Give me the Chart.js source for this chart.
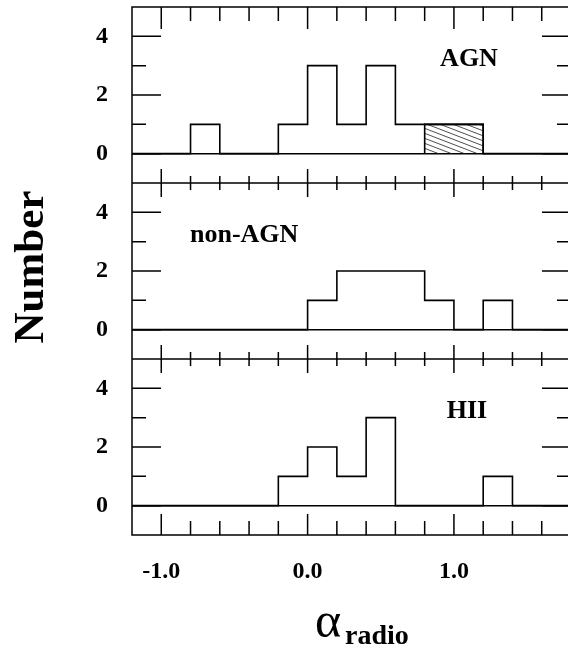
<!DOCTYPE html>
<html>
<head>
<meta charset="utf-8">
<script src="https://cdn.jsdelivr.net/npm/chart.js@4.4.0/dist/chart.umd.min.js"></script>
<style>
  html, body { margin: 0; padding: 0; background: #fff; overflow: hidden; }
  #wrap { position: relative; width: 580px; height: 654px; }
</style>
</head>
<body>
<div id="wrap"><canvas id="histChart" width="580" height="654"></canvas></div>
<script>
// bin edges of alpha_radio, bins are 0.2 wide
const binEdges = [-1.2, -1.0, -0.8, -0.6, -0.4, -0.2, 0.0, 0.2, 0.4, 0.6, 0.8, 1.0, 1.2, 1.4, 1.6, 1.8];
// number of sources in each bin (bin i starts at binEdges[i])
const agnCounts    = [0, 0, 1, 0, 0, 1, 3, 1, 3, 1, 1, 1, 0, 0, 0];
const nonAgnCounts = [0, 0, 0, 0, 0, 0, 1, 2, 2, 2, 1, 0, 1, 0, 0];
const hiiCounts    = [0, 0, 0, 0, 0, 1, 2, 1, 3, 0, 0, 0, 1, 0, 0];
// hatched part of the AGN histogram
const agnHatchRange = [0.8, 1.2];
const agnHatchCount = 1;

const panelNames = ["AGN", "non-AGN", "HII"];
const xTickLabels = [-1.0, 0.0, 1.0];
const yTickLabels = [0, 2, 4];

const serif = "'Liberation Serif', 'DejaVu Serif', serif";
const tickFont = { family: serif, weight: "bold", size: 24 };

function stepPoints(counts) {
    return binEdges.map((x, i) => ({ x: x, y: i < counts.length ? counts[i] : 0 }));
}

function hatchPattern() {
    const c = document.createElement("canvas");
    c.width = 13;
    c.height = 5;
    const g = c.getContext("2d");
    g.strokeStyle = "#222";
    g.lineWidth = 0.8;
    for (let k = -1; k <= 1; k++) {
        g.beginPath();
        g.moveTo(-1, k * 5 - 5 / 13);
        g.lineTo(14, k * 5 + 5 + 5 / 13);
        g.stroke();
    }
    return g.createPattern(c, "repeat");
}

function yScale(weight) {
    return {
        type: "linear",
        position: "left",
        stack: "panels",
        weight: weight,
        min: -1,
        max: 5,
        ticks: {
            stepSize: 1,
            autoSkip: false,
            padding: 24,
            color: "#000",
            font: tickFont,
            callback: v => yTickLabels.includes(v) ? String(v) : ""
        },
        grid: {
            drawTicks: false,
            lineWidth: 1.5,
            color: ctx => (ctx.tick && ctx.tick.value === 0) ? "#000" : "rgba(0,0,0,0)"
        },
        border: { display: false },
        afterFit: s => {
            s.width = 132;
            s.paddingTop = 0;
            s.paddingBottom = 0;
        }
    };
}

const yIds = ["yAGN", "yNon", "yHII"];

// frame of the three panels with inward ticks on all sides
const framePlugin = {
    id: "frame",
    afterDatasetsDraw(chart) {
        const ctx = chart.ctx;
        const xs = chart.scales.x;
        const left = xs.getPixelForValue(xs.min), right = xs.getPixelForValue(xs.max);
        ctx.save();
        ctx.strokeStyle = "#000";
        ctx.lineWidth = 1.5;
        ctx.beginPath();
        yIds.forEach((id, p) => {
            const ys = chart.scales[id];
            const top = ys.getPixelForValue(ys.max), bottom = ys.getPixelForValue(ys.min);
            ctx.rect(left, top, right - left, bottom - top);
            const topLen = p === 0 ? [14, 22] : [7, 14];
            const botLen = p === yIds.length - 1 ? [14, 21] : [7, 14];
            xs.ticks.forEach(t => {
                const v = t.value;
                if (v <= xs.min + 1e-6 || v >= xs.max - 1e-6) return;
                const major = Math.abs(v - Math.round(v)) < 1e-6 ? 1 : 0;
                const px = xs.getPixelForValue(v);
                ctx.moveTo(px, top);
                ctx.lineTo(px, top + topLen[major]);
                ctx.moveTo(px, bottom);
                ctx.lineTo(px, bottom - botLen[major]);
            });
            ys.ticks.forEach(t => {
                const v = t.value;
                if (v <= ys.min || v >= ys.max) return;
                const len = v % 2 === 0 ? 29 : 14;
                const py = ys.getPixelForValue(v);
                ctx.moveTo(left, py);
                ctx.lineTo(left + len, py);
                ctx.moveTo(right, py);
                ctx.lineTo(right - len, py);
            });
        });
        ctx.stroke();
        ctx.restore();
    },
    afterDraw(chart) {
        const ctx = chart.ctx;
        ctx.save();
        ctx.fillStyle = "#000";
        ctx.textBaseline = "alphabetic";
        // panel names
        ctx.font = "bold 26px " + serif;
        ctx.textAlign = "center";
        ctx.fillText(panelNames[0], 469, 66);
        ctx.textAlign = "left";
        ctx.fillText(panelNames[1], 190, 242);
        ctx.textAlign = "center";
        ctx.fillText(panelNames[2], 467, 418);
        // y title
        ctx.save();
        ctx.translate(43, 267);
        ctx.rotate(-Math.PI / 2);
        ctx.font = "bold 43px " + serif;
        ctx.textAlign = "center";
        ctx.fillText("Number", 0, 0);
        ctx.restore();
        // x title
        ctx.textAlign = "left";
        ctx.font = "50px " + serif;
        ctx.fillText("\u03b1", 315, 637);
        ctx.font = "bold 28px " + serif;
        ctx.fillText("radio", 345, 644);
        ctx.restore();
    }
};

const histLine = (counts, axis) => ({
    data: stepPoints(counts),
    yAxisID: axis,
    stepped: true,
    borderColor: "#000",
    borderWidth: 1.6,
    pointRadius: 0,
    fill: false
});

const config = {
    type: "line",
    data: {
        datasets: [
            {
                data: [
                    { x: agnHatchRange[0], y: 0 },
                    { x: agnHatchRange[0], y: agnHatchCount },
                    { x: agnHatchRange[1], y: agnHatchCount },
                    { x: agnHatchRange[1], y: 0 }
                ],
                yAxisID: "yAGN",
                borderColor: "#000",
                borderWidth: 1.6,
                backgroundColor: hatchPattern(),
                pointRadius: 0,
                fill: "origin"
            },
            histLine(agnCounts, "yAGN"),
            histLine(nonAgnCounts, "yNon"),
            histLine(hiiCounts, "yHII")
        ]
    },
    options: {
        responsive: false,
        animation: false,
        devicePixelRatio: 1,
        layout: { padding: { top: 7, right: 9, left: 0, bottom: 0 } },
        plugins: { legend: { display: false }, tooltip: { enabled: false } },
        scales: {
            x: {
                type: "linear",
                min: binEdges[0],
                max: binEdges[binEdges.length - 1],
                ticks: {
                    stepSize: 0.2,
                    autoSkip: false,
                    maxRotation: 0,
                    padding: 22,
                    color: "#000",
                    font: tickFont,
                    callback: v => {
                        const r = Math.round(v * 10) / 10;
                        return xTickLabels.includes(r) ? r.toFixed(1) : "";
                    }
                },
                grid: { display: false, drawTicks: false },
                border: { display: false },
                afterFit: s => {
                    s.height = 119;
                    s.paddingLeft = 0;
                    s.paddingRight = 0;
                }
            },
            yAGN: yScale(3),
            yNon: yScale(2),
            yHII: yScale(1)
        }
    },
    plugins: [framePlugin]
};

let chart;
window.addEventListener("load", () => {
    chart = new Chart(document.getElementById("histChart"), config);
});
</script>
</body>
</html>
